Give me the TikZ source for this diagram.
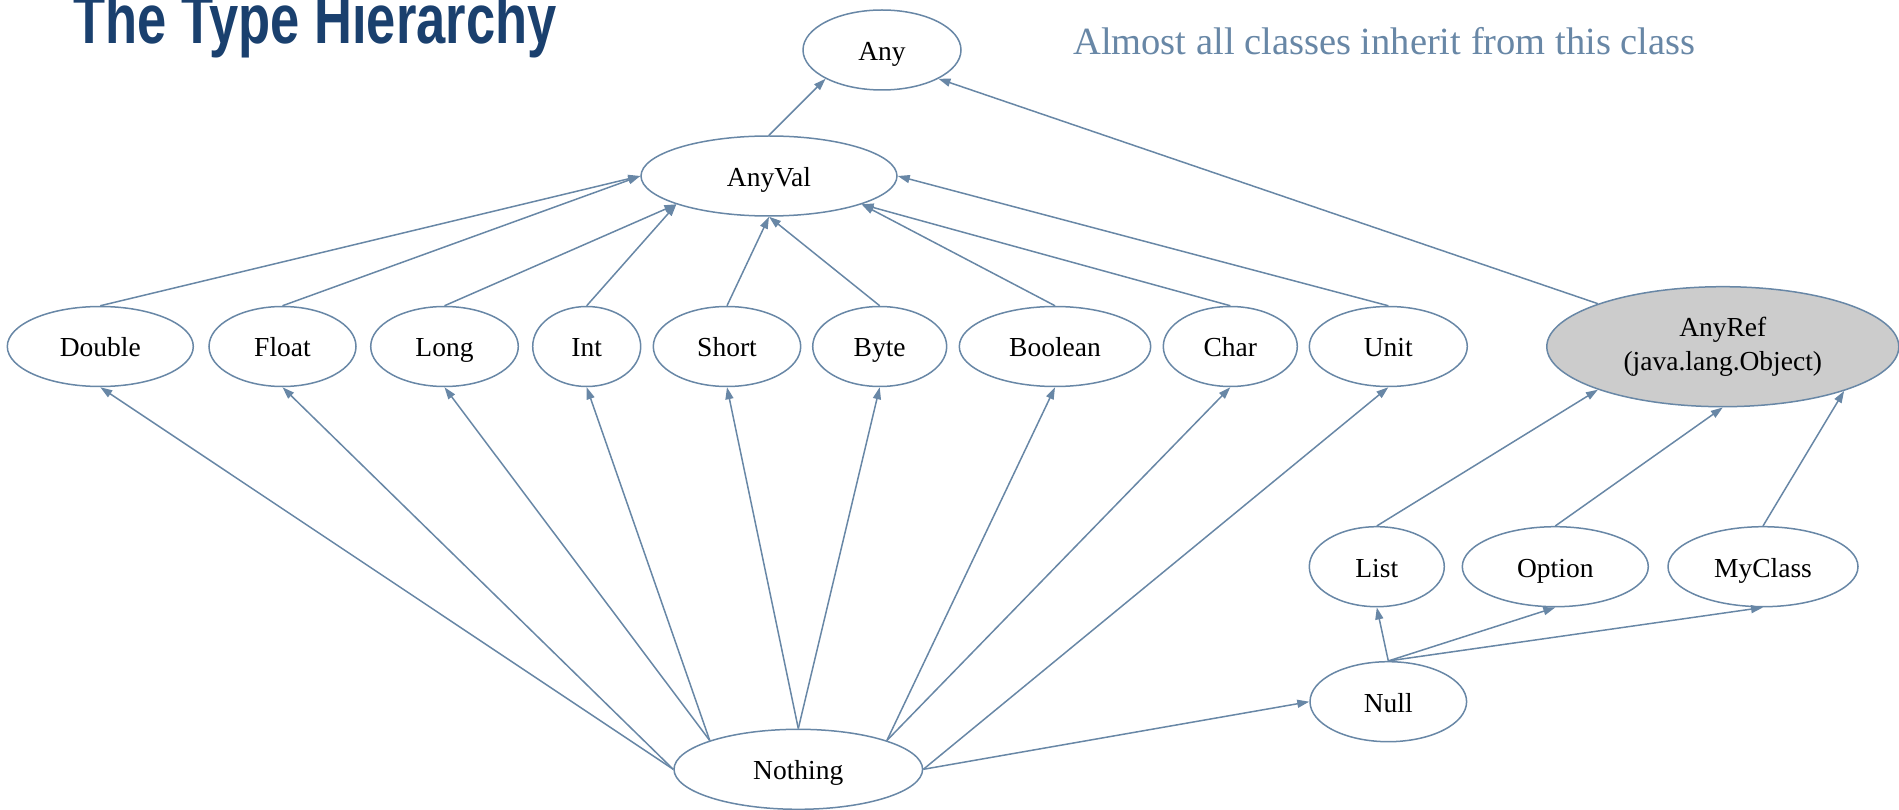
\documentclass[tikz,border=0pt]{standalone}
\usepackage{fontspec}
\setmainfont{Liberation Serif}
\newfontfamily\headfont{Liberation Sans}
\usetikzlibrary{shapes.geometric,arrows.meta}
\definecolor{edgeblue}{RGB}{104,135,166}
\definecolor{titleblue}{RGB}{26,64,110}
\definecolor{refgray}{RGB}{204,204,204}
\tikzset{
  typenode/.style={ellipse, draw=edgeblue, line width=1.5pt, fill=white,
    inner sep=0pt, minimum height=80pt, text=black,
    text height=27pt, text depth=6pt,
    font=\fontsize{27.5}{30}\selectfont},
  inherit/.style={draw=edgeblue, line width=1.5pt,
    -{Triangle[length=12pt,width=8pt]}},
}
\begin{document}
\begin{tikzpicture}[x=1pt, y=-1pt]
\useasboundingbox (0,0) rectangle (1899,810);

% heading and remark
\node[anchor=base west, inner sep=0pt, text=titleblue,
  font=\headfont\bfseries\fontsize{70}{76}\selectfont] (title) at (73,44)
  {\scalebox{0.75}[1]{The Type Hierarchy}};
\node[anchor=base west, inner sep=0pt, text=edgeblue,
  font=\fontsize{38.5}{44}\selectfont] (remark) at (1073,55)
  {Almost all classes inherit from this class};

% root types
\node[typenode, minimum width=158pt] (any) at (882,50) {Any};
\node[typenode, minimum width=256pt] (anyval) at (769,176) {AnyVal};
\node[typenode, minimum width=352pt, minimum height=120pt, fill=refgray,
  align=center, text height=, text depth=,
  font=\fontsize{27.5}{34}\selectfont] (anyref) at (1722.8,346.7)
  {AnyRef\\(java.lang.Object)};

% value types
\node[typenode, minimum width=186pt] (double) at (100.3,346.5) {Double};
\node[typenode, minimum width=147pt] (float) at (282.5,346.5) {Float};
\node[typenode, minimum width=147.6pt] (long) at (444.5,346.5) {Long};
\node[typenode, minimum width=108pt] (int) at (586.7,346.5) {Int};
\node[typenode, minimum width=147.4pt] (short) at (727,346.5) {Short};
\node[typenode, minimum width=134pt] (byte) at (879.7,346.5) {Byte};
\node[typenode, minimum width=191.4pt] (boolean) at (1055,346.5) {Boolean};
\node[typenode, minimum width=134pt] (char) at (1230.3,346.5) {Char};
\node[typenode, minimum width=158pt] (unit) at (1388.3,346.5) {Unit};

% reference types
\node[typenode, minimum width=135pt] (list) at (1376.8,566.7) {List};
\node[typenode, minimum width=186pt] (option) at (1555.3,566.7) {Option};
\node[typenode, minimum width=190pt] (myclass) at (1763,566.7) {MyClass};

% bottom types
\node[typenode, minimum width=156.6pt] (null) at (1388.3,701.7) {Null};
\node[typenode, minimum width=248.6pt] (nothing) at (798.3,769.3) {Nothing};

% inheritance edges
\draw[inherit] (anyval.north) -- (any.207.8);
\draw[inherit] (anyref.161) -- (any.333.4);

\draw[inherit] (double.north) -- (anyval.west);
\draw[inherit] (float.north) -- (anyval.west);
\draw[inherit] (long.north) -- (anyval.197.4);
\draw[inherit] (int.north) -- (anyval.197.4);
\draw[inherit] (short.north) -- (anyval.south);
\draw[inherit] (byte.north) -- (anyval.south);
\draw[inherit] (boolean.north) -- (anyval.343.2);
\draw[inherit] (char.north) -- (anyval.343.2);
\draw[inherit] (unit.north) -- (anyval.east);

\draw[inherit] (list.north) -- (anyref.199.7);
\draw[inherit] (option.north) -- (anyref.south);
\draw[inherit] (myclass.north) -- (anyref.340);

\draw[inherit] (nothing.west) -- (double.south);
\draw[inherit] (nothing.west) -- (float.south);
\draw[inherit] (nothing.162.1) -- (long.south);
\draw[inherit] (nothing.162.1) -- (int.south);
\draw[inherit] (nothing.north) -- (short.south);
\draw[inherit] (nothing.north) -- (byte.south);
\draw[inherit] (nothing.18.1) -- (boolean.south);
\draw[inherit] (nothing.18.1) -- (char.south);
\draw[inherit] (nothing.east) -- (unit.south);
\draw[inherit] (nothing.east) -- (null.west);

\draw[inherit] (null.north) -- (list.south);
\draw[inherit] (null.north) -- (option.south);
\draw[inherit] (null.north) -- (myclass.south);
\end{tikzpicture}
\end{document}
